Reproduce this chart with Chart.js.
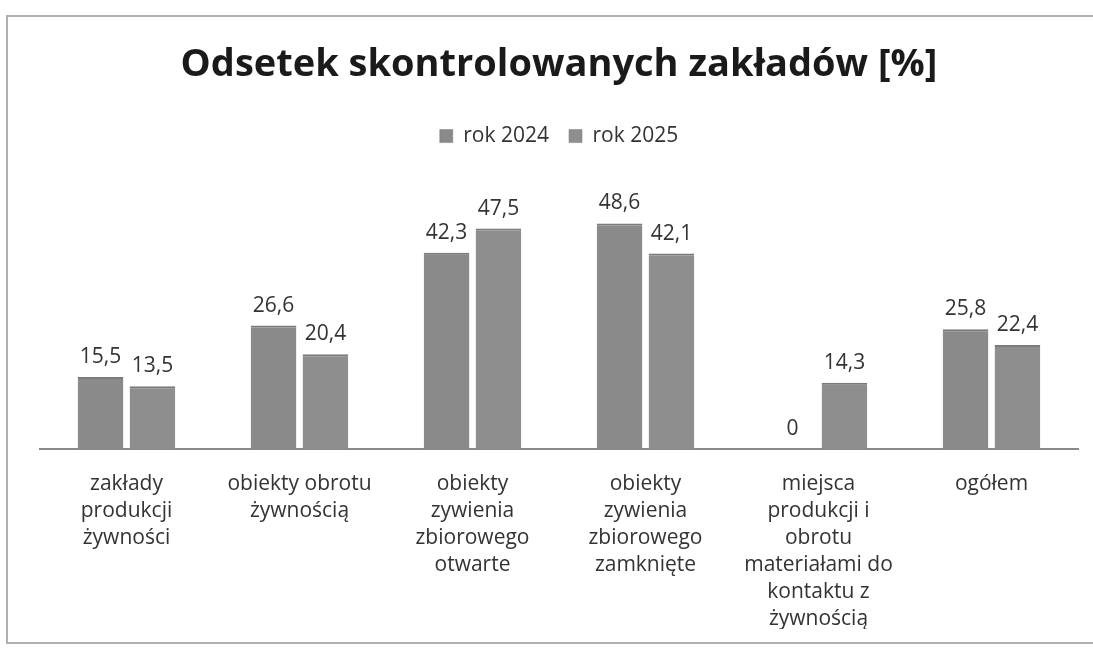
<!DOCTYPE html>
<html>
<head>
<meta charset="utf-8">
<script src="https://cdn.jsdelivr.net/npm/chart.js@4/dist/chart.umd.min.js"></script>
<style>
  html, body { margin: 0; padding: 0; background: #fff; }
  #wrap { position: relative; width: 1093px; height: 649px; }
  #ramka {
    position: absolute; left: 6px; top: 15px; width: 1093px; height: 629px;
    border-top: 2px solid #b0b0b0; border-left: 2px solid #b0b0b0; border-bottom: 2px solid #b0b0b0;
    box-sizing: border-box; pointer-events: none;
  }
  canvas { position: absolute; left: 0; top: 0; }
</style>
</head>
<body>
<div id="wrap">
  <canvas id="wykres" width="1093" height="649"></canvas>
  <div id="ramka"></div>
</div>
<script>
// Dane wykresu
const kategorie = [
    ['zakłady', 'produkcji', 'żywności'],
    ['obiekty obrotu', 'żywnością'],
    ['obiekty', 'zywienia', 'zbiorowego', 'otwarte'],
    ['obiekty', 'zywienia', 'zbiorowego', 'zamknięte'],
    ['miejsca', 'produkcji i', 'obrotu', 'materiałami do', 'kontaktu z', 'żywnością'],
    ['ogółem']
];
const rok2024 = [15.5, 26.6, 42.3, 48.6, 0, 25.8];
const rok2025 = [13.5, 20.4, 47.5, 42.1, 14.3, 22.4];

const czcionka = "'Open Sans', 'DejaVu Sans', sans-serif";

// Etykiety wartości nad słupkami (przecinek dziesiętny)
const etykietyWartosci = {
    id: 'etykietyWartosci',
    afterDatasetsDraw(chart) {
        const ctx = chart.ctx;
        ctx.save();
        ctx.font = '21px ' + czcionka;
        ctx.fillStyle = '#333';
        ctx.textAlign = 'center';
        ctx.textBaseline = 'alphabetic';
        chart.data.datasets.forEach((ds, i) => {
            chart.getDatasetMeta(i).data.forEach((bar, j) => {
                const tekst = String(ds.data[j]).replace('.', ',');
                ctx.fillText(tekst, bar.x, bar.y - 14);
            });
        });
        ctx.restore();
    }
};

new Chart(document.getElementById('wykres'), {
    type: 'bar',
    data: {
        labels: kategorie,
        datasets: [
            { label: 'rok 2024', data: rok2024, backgroundColor: '#8a8a8a', borderColor: '#7a7a7a', borderWidth: { top: 2 } },
            { label: 'rok 2025', data: rok2025, backgroundColor: '#8e8e8e', borderColor: '#7a7a7a', borderWidth: { top: 2 } }
        ]
    },
    options: {
        responsive: false,
        animation: false,
        layout: { padding: { top: 22, left: 40, right: 15, bottom: 20 } },
        datasets: { bar: { categoryPercentage: 0.6, barPercentage: 0.88 } },
        scales: {
            x: {
                grid: { display: false },
                border: { display: true, color: '#8a8a8a', width: 2 },
                ticks: { color: '#333', font: { family: czcionka, size: 21, lineHeight: 1.28 }, maxRotation: 0, autoSkip: false, padding: 14 },
                afterFit(scale) { scale.height = 180; }
            },
            y: { display: false, min: 0, max: 63 }
        },
        plugins: {
            title: {
                display: true,
                text: 'Odsetek skontrolowanych zakładów [%]',
                color: '#1a1a1a',
                font: { family: czcionka, size: 38, weight: 'bold' },
                padding: { top: 20, bottom: 18 }
            },
            legend: {
                position: 'top',
                labels: {
                    color: '#333',
                    font: { family: czcionka, size: 21 },
                    boxWidth: 13, boxHeight: 13, padding: 20
                }
            },
            tooltip: { enabled: false }
        }
    },
    plugins: [etykietyWartosci]
});
</script>
</body>
</html>
